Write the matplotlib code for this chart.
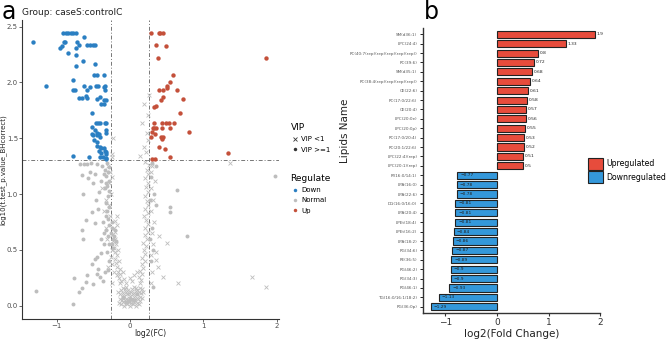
import matplotlib
matplotlib.use("Agg")
import matplotlib.pyplot as plt
from matplotlib.lines import Line2D
from matplotlib.patches import Patch

# ---- panel a: volcano points (log2FC, -log10 p) ----
down_x = [-1.32, -1.145, -0.91, -0.87, -0.84, -0.81, -0.77, -0.74, -0.63, -0.95, -0.93, -0.90, -0.89,
          -0.72, -0.70, -0.74, -0.84, -0.58, -0.55, -0.51, -0.48, -0.73, -0.64, -0.74, -0.48,
          -0.49, -0.45, -0.35, -0.77, -0.78, -0.75, -0.59, -0.34, -0.63, -0.46, -0.43, -0.35, -0.34,
          -0.70, -0.65, -0.58, -0.60, -0.41, -0.55, -0.45, -0.36, -0.33, -0.40, -0.36, -0.52,
          -0.46, -0.43, -0.41, -0.34, -0.32, -0.52, -0.48, -0.45, -0.52, -0.50, -0.45, -0.42,
          -0.32, -0.33, -0.49, -0.45, -0.41, -0.45, -0.41, -0.39, -0.36, -0.34, -0.33, -0.32,
          -0.42, -0.39, -0.41, -0.37, -0.33, -0.78, -0.56, -0.32]
down_y = [2.36, 1.97, 2.44, 2.44, 2.44, 2.44, 2.44, 2.44, 2.41, 2.31, 2.33, 2.36, 2.36,
          2.36, 2.34, 2.31, 2.26, 2.34, 2.34, 2.34, 2.34, 2.25, 2.19, 2.15, 2.17,
          2.07, 2.07, 2.07, 2.02, 1.93, 1.93, 1.93, 1.93, 1.97, 1.97, 1.97, 1.96, 1.97,
          1.86, 1.86, 1.86, 1.88, 1.87, 1.96, 1.85, 1.84, 1.84, 1.81, 1.81, 1.73,
          1.64, 1.64, 1.64, 1.64, 1.64, 1.60, 1.57, 1.55, 1.54, 1.53, 1.53, 1.54,
          1.57, 1.55, 1.48, 1.47, 1.51, 1.43, 1.42, 1.41, 1.41, 1.39, 1.38, 1.36,
          1.39, 1.37, 1.33, 1.33, 1.32, 1.34, 1.33, 1.31]

up_x = [0.28, 0.39, 0.41, 0.45, 0.36, 0.49, 0.38, 1.86, 0.58, 0.55, 0.50, 0.51, 0.40, 0.45,
        0.64, 0.45, 0.72, 0.42, 0.36, 0.33, 0.68, 0.44, 0.49, 0.53, 0.60, 0.33, 0.31, 0.33,
        0.36, 0.44, 0.55, 0.30, 0.80, 0.34, 0.42, 0.45, 0.44, 0.28, 0.39, 0.48, 1.33, 0.55,
        0.30, 0.34]
up_y = [2.44, 2.44, 2.44, 2.44, 2.34, 2.33, 2.22, 2.22, 2.07, 2.00, 1.97, 1.95, 1.93, 1.93,
        1.93, 1.87, 1.85, 1.84, 1.79, 1.78, 1.73, 1.64, 1.64, 1.64, 1.64, 1.64, 1.59, 1.59,
        1.59, 1.59, 1.59, 1.56, 1.56, 1.54, 1.51, 1.51, 1.49, 1.51, 1.42, 1.40, 1.37, 1.33,
        1.31, 1.31]

normal_dot_x = [-1.28, -0.77, -0.76, -0.69, -0.66, -0.60, -0.58, -0.50, -0.52, -0.45, -0.41,
                -0.64, -0.65, -0.60, -0.52, -0.48, -0.43, -0.64, -0.66, -0.57, -0.50, -0.39,
                -0.45, -0.48, -0.35, -0.40, -0.37, -0.46, -0.42, -0.55, -0.62, -0.53, -0.45,
                -0.38, -0.36, -0.33, -0.40, -0.47, -0.35, -0.44, -0.34, -0.37, -0.68, -0.59,
                -0.30, -0.29, -0.31, -0.28, -0.30, -0.32, -0.28, -0.30, -0.31, -0.29, -0.33,
                -0.30, -0.28, -0.31, -0.29, -0.32, -0.30, -0.28, -0.31, -0.34, -0.34, -0.33,
                -0.25, -0.23, -0.26, -0.24, -0.22, -0.20, -0.25, -0.19, -0.23,
                1.98, 0.64, 0.55, 0.55, 0.78, 0.32, 0.31, 0.28, 0.30, 0.27, 0.29, 0.33,
                0.27, 0.35, 0.30, 0.36, -0.02, 0.05, -0.10, 0.09, -0.06, 0.02]
normal_dot_y = [0.13, 0.01, 0.25, 0.12, 0.16, 0.21, 0.27, 0.19, 0.37, 0.28, 0.26,
                0.60, 0.68, 0.77, 0.84, 0.74, 0.87, 1.00, 1.17, 1.14, 1.10, 0.47,
                0.44, 0.42, 0.55, 0.60, 0.75, 0.95, 1.02, 1.20, 1.27, 1.28, 1.27,
                1.25, 1.18, 1.10, 1.12, 1.18, 0.65, 0.33, 0.30, 0.22, 1.27, 1.27,
                0.32, 0.40, 0.48, 0.55, 0.62, 0.68, 0.72, 0.78, 0.85, 0.88, 0.92,
                0.98, 1.03, 1.07, 1.12, 1.16, 1.20, 1.24, 1.28, 1.22, 1.05, 0.80,
                0.55, 0.60, 0.65, 0.70, 0.62, 0.68, 0.75, 0.58, 0.52,
                1.16, 1.04, 0.88, 0.84, 0.62, 0.17, 0.50, 0.40, 0.70, 0.95, 1.15, 1.00,
                0.60, 0.90, 1.28, 1.25, 0.04, 0.05, 0.08, 0.10, 0.03, 0.06]

normal_x_x = [-0.15, -0.12, -0.10, -0.08, -0.06, -0.04, -0.02, 0.00, 0.02, 0.04, 0.06, 0.08, 0.10, 0.12, 0.14,
              -0.14, -0.11, -0.09, -0.07, -0.05, -0.03, -0.01, 0.01, 0.03, 0.05, 0.07, 0.09, 0.11, 0.13, 0.16,
              -0.13, -0.10, -0.08, -0.06, -0.04, -0.02, 0.00, 0.02, 0.04, 0.06, 0.08, 0.10, 0.12, 0.15,
              -0.12, -0.10, -0.07, -0.05, -0.03, 0.03, 0.05, 0.08, 0.10, 0.13, 0.17, -0.16, 0.18,
              -0.14, -0.12, -0.15, -0.13, -0.16, -0.18, -0.14, -0.17, -0.19, -0.15, -0.20, -0.18, -0.21,
              -0.16, -0.22, -0.19, -0.23, -0.20, -0.24, -0.21, -0.22, -0.18, -0.20, -0.17, -0.25, -0.22,
              -0.24, -0.26, -0.25,
              0.13, 0.15, 0.12, 0.17, 0.14, 0.18, 0.16, 0.20, 0.17, 0.21, 0.19, 0.22, 0.18, 0.23, 0.20,
              0.24, 0.21, 0.25, 0.22, 0.19, 0.24, 0.21, 0.25, 0.23, 0.20, 0.24, 0.22, 0.25, 0.21, 0.24,
              0.23, 0.26, 0.20,
              0.28, 0.30, 0.29, 0.32, 0.30, 0.33, 0.28, 0.31, 0.29, 0.34, 0.28, 0.30, 0.36, 0.40, 0.45,
              0.50, 0.66, 1.66, 1.86, 0.38, 0.35,
              -0.27, -0.28, -0.26, -0.29, -0.27, -0.30, -0.32, -0.33, -0.31, -0.30, -0.35, -0.38, -0.25,
              -0.23, -0.24, 0.19, 0.14, 0.19, 0.16, 0.23, 0.24, 0.25, 0.26, 1.36, 0.22, -0.25,
              -0.05, 0.03, 0.00, -0.08, 0.06, 0.10, -0.10]
normal_x_y = [0.02, 0.01, 0.03, 0.00, 0.02, 0.01, 0.03, 0.00, 0.02, 0.01, 0.03, 0.00, 0.02, 0.01, 0.04,
              0.06, 0.05, 0.07, 0.05, 0.06, 0.05, 0.07, 0.05, 0.06, 0.08, 0.05, 0.07, 0.06, 0.08, 0.07,
              0.10, 0.11, 0.09, 0.12, 0.10, 0.11, 0.09, 0.12, 0.10, 0.11, 0.13, 0.10, 0.12, 0.11,
              0.14, 0.16, 0.15, 0.17, 0.14, 0.15, 0.17, 0.16, 0.14, 0.16, 0.15, 0.12, 0.12,
              0.20, 0.22, 0.25, 0.28, 0.30, 0.27, 0.33, 0.35, 0.38, 0.40, 0.42, 0.45, 0.48,
              0.50, 0.52, 0.55, 0.58, 0.60, 0.63, 0.66, 0.70, 0.72, 0.76, 0.80, 0.20, 0.30,
              0.37, 0.44, 0.50,
              0.20, 0.23, 0.26, 0.28, 0.31, 0.34, 0.37, 0.40, 0.43, 0.46, 0.50, 0.53, 0.56, 0.60, 0.63,
              0.66, 0.70, 0.73, 0.77, 0.80, 0.83, 0.87, 0.90, 0.94, 0.98, 1.02, 1.06, 1.10, 1.14, 1.18,
              1.22, 1.26, 1.29,
              0.20, 0.30, 0.45, 0.55, 0.65, 0.75, 0.85, 0.95, 1.05, 1.12, 1.20, 1.25, 0.41, 0.62, 0.26,
              0.56, 0.20, 0.26, 0.17, 0.35, 0.48,
              0.80, 0.90, 1.00, 1.10, 1.20, 1.25, 0.95, 0.70, 0.60, 0.35, 0.85, 1.05, 1.15,
              1.50, 1.33, 1.81, 1.34, 1.42, 1.64, 1.55, 1.48, 1.71, 1.89, 1.28, 1.38, 1.36,
              0.20, 0.22, 0.25, 0.24, 0.27, 0.30, 0.30]

# ---- panel b: top lipids ----
lipids = ["SM(d36:1)", "LPC(24:4)", "PC(40:7(rep)(rep)(rep)(rep)(rep))", "PC(39:6)", "SM(d35:1)",
          "PC(38:4(rep)(rep)(rep)(rep))", "CE(22:6)", "PC(17:0/22:6)", "CE(20:4)", "LPC(20:0e)",
          "LPC(20:0p)", "PC(17:0/20:4)", "PC(20:1/22:6)", "LPC(22:4)(rep)", "LPC(20:1)(rep)",
          "PI(16:0/14:1)", "LPA(16:0)", "LPA(22:6)", "DG(16:0/16:0)", "LPA(20:4)", "LPEt(18:4)",
          "LPEt(16:2)", "LPA(18:2)", "PG(34:6)", "PE(36:5)", "PG(46:2)", "PG(34:3)", "PG(46:1)",
          "TG(16:0/16:1/18:2)", "PG(36:0p)"]
fold_change = [1.9, 1.33, 0.8, 0.72, 0.68, 0.64, 0.61, 0.58, 0.57, 0.56, 0.55, 0.53, 0.52, 0.51, 0.5,
               -0.77, -0.78, -0.78, -0.81, -0.81, -0.81, -0.84, -0.86, -0.87, -0.89, -0.9, -0.9,
               -0.93, -1.13, -1.29]

GREY = "#BDBDBD"
BLUE = "#2B7FC2"
RED = "#C4503A"
AXC = "#4D4D4D"

fig = plt.figure(figsize=(6.69, 3.39), dpi=100)

# ---------------- panel a ----------------
ax = fig.add_axes([0.033, 0.059, 0.384, 0.882])
ax.scatter(normal_x_x, normal_x_y, marker="x", s=8, color=GREY, linewidths=0.6, zorder=2)
ax.scatter(normal_dot_x, normal_dot_y, marker="o", s=8, color=GREY, linewidths=0, zorder=2)
ax.scatter(down_x, down_y, marker="o", s=10, color=BLUE, linewidths=0, zorder=3)
ax.scatter(up_x, up_y, marker="o", s=10, color=RED, linewidths=0, zorder=3)
for v in (-0.263, 0.263):
    ax.axvline(v, color="#777777", lw=0.7, ls=(0, (4, 2, 1, 2)), zorder=1)
ax.axhline(1.301, color="#777777", lw=0.7, ls=(0, (4, 2, 1, 2)), zorder=1)
ax.set_xlim(-1.47, 2.03)
ax.set_ylim(-0.12, 2.56)
ax.set_xticks([-1, 0, 1, 2])
ax.set_xticklabels(["\u22121", "0", "1", "2"])
ax.set_yticks([0.0, 0.5, 1.0, 1.5, 2.0, 2.5])
ax.set_yticklabels(["0.0", "0.5", "1.0", "1.5", "2.0", "2.5"])
for s in ("top", "right"):
    ax.spines[s].set_visible(False)
for s in ("left", "bottom"):
    ax.spines[s].set_color("#333333")
    ax.spines[s].set_linewidth(0.8)
ax.tick_params(labelsize=5, colors=AXC, length=2, width=0.6, pad=1)
ax.set_xlabel("log2(FC)", fontsize=5.5, color="#222222", labelpad=0)
ax.set_ylabel("log10(t.test_p.value_BHcorrect)", fontsize=5, color="#222222", labelpad=0.5)
fig.text(0.033, 0.962, "Group: caseS:controlC", fontsize=6.5, color="#222222", va="center")
fig.text(0.003, 0.965, "a", fontsize=17, va="center")

vip_handles = [Line2D([], [], marker="x", ls="", color="#333333", markersize=3, mew=0.6),
               Line2D([], [], marker="o", ls="", color="#333333", markersize=2.5, mew=0)]
leg1 = fig.legend(vip_handles, ["VIP <1", "VIP >=1"], title="VIP", loc="upper left",
                  bbox_to_anchor=(0.425, 0.655), frameon=False, fontsize=5, title_fontsize=6.5,
                  handletextpad=0.3, labelspacing=0.6, handlelength=1.2)
leg1._legend_box.align = "left"
reg_handles = [Line2D([], [], marker="o", ls="", color=c, markersize=2.5, mew=0)
               for c in (BLUE, GREY, RED)]
leg2 = fig.legend(reg_handles, ["Down", "Normal", "Up"], title="Regulate", loc="upper left",
                  bbox_to_anchor=(0.425, 0.505), frameon=False, fontsize=5, title_fontsize=6.5,
                  handletextpad=0.3, labelspacing=0.6, handlelength=1.2)
leg2._legend_box.align = "left"

# ---------------- panel b ----------------
bx = fig.add_axes([0.632, 0.077, 0.265, 0.84])
ypos = list(range(len(lipids)))[::-1]
colors = ["#E74C3C" if v > 0 else "#3498DB" for v in fold_change]
bx.barh(ypos, fold_change, height=0.75, color=colors, edgecolor="#222222", linewidth=0.8, zorder=2)
for y, v in zip(ypos, fold_change):
    lab = f"{v:g}".replace("-", "\u2212")
    if v > 0:
        bx.text(v + 0.03, y, lab, fontsize=3.2, va="center", ha="left", color="#222222")
    else:
        bx.text(v + 0.06, y, lab, fontsize=3.2, va="center", ha="left", color="#222222")
bx.set_yticks(ypos)
bx.set_yticklabels(lipids, fontsize=3.0, color="#555555")
bx.set_ylim(-0.65, len(lipids) - 0.35)
bx.set_xlim(-1.44, 2.0)
bx.set_xticks([-1, 0, 1, 2])
bx.set_xticklabels(["\u22121", "0", "1", "2"])
for s in ("top", "right"):
    bx.spines[s].set_visible(False)
for s in ("left", "bottom"):
    bx.spines[s].set_color("#333333")
    bx.spines[s].set_linewidth(1.0)
bx.tick_params(axis="x", labelsize=6.5, colors="#333333", length=2.5, width=0.8, pad=1.5)
bx.tick_params(axis="y", length=2, width=0.6, pad=2)
bx.set_xlabel("log2(Fold Change)", fontsize=7.5, color="#222222", labelpad=1)
bx.set_ylabel("Lipids Name", fontsize=7.5, color="#222222")
bx.yaxis.set_label_coords(-0.41, 0.64)
fig.text(0.634, 0.965, "b", fontsize=17, va="center")

leg_patches = [Patch(facecolor="#E74C3C", edgecolor="#222222", lw=0.8),
               Patch(facecolor="#3498DB", edgecolor="#222222", lw=0.8)]
fig.legend(leg_patches, ["Upregulated", "Downregulated"], loc="upper left",
           bbox_to_anchor=(0.879, 0.535), frameon=False, fontsize=5.6, borderpad=0,
           borderaxespad=0, handlelength=1.9, handleheight=2.1, handletextpad=0.4,
           labelspacing=0.1)

fig.savefig("out.png", dpi=100)
